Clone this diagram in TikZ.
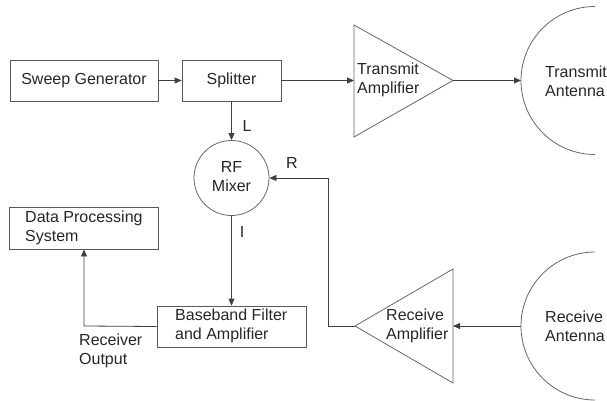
\documentclass[tikz,border=0pt]{standalone}
\usepackage{fontspec}
\setmainfont{Liberation Sans}
\usetikzlibrary{arrows.meta}
\begin{document}
\begin{tikzpicture}[x=1pt,y=-1pt,
  every node/.style={font=\fontsize{16}{19}\selectfont, text=black!85, inner sep=0pt},
  blk/.style={draw=black!65, line width=0.8pt, rectangle},
  conn/.style={draw=black!75, line width=0.8pt, -{Triangle[length=7pt,width=6pt]}},
  plain/.style={draw=black!75, line width=0.8pt},
  shapeline/.style={draw=black!60, line width=0.8pt},
  lbl/.style={align=left, anchor=west}]
\useasboundingbox (0,0) rectangle (607,401);
% boxes
\node[blk, minimum width=148pt, minimum height=41pt] (sweep) at (84,80.5) {};
\node (sweept) at (84,80.5) {Sweep Generator};
\node[blk, minimum width=99pt, minimum height=41pt] (split) at (231.5,80.5) {};
\node (splitt) at (231.5,80.5) {Splitter};
\node[blk, minimum width=149pt, minimum height=42pt] (dps) at (84,228) {};
\node[lbl] (dpst) at (25,228) {Data Processing\\System};
\node[blk, minimum width=149pt, minimum height=41pt] (bb) at (231.5,326.5) {};
\node[lbl] (bbt) at (175,326) {Baseband Filter\\and Amplifier};
% mixer
\node[circle, draw=black!60, line width=0.8pt, minimum size=75pt] (mix) at (231.5,178) {};
\node[align=center] (mixt) at (231.5,177) {RF\\Mixer};
% transmit amplifier
\coordinate (txin) at (354,80.5);
\coordinate (txout) at (453,80.5);
\draw[shapeline] (354,25) -- (453,80.5) -- (354,137) -- cycle;
\node[lbl] (txt) at (357,80) {Transmit\\Amplifier};
% receive amplifier
\coordinate (rxin) at (453,326);
\coordinate (rxout) at (355,326);
\draw[shapeline] (453,269) -- (355,326) -- (453,383) -- cycle;
\node[lbl] (rxt) at (386,326) {Receive\\Amplifier};
% antennas
\coordinate (txant) at (521,80.5);
\draw[shapeline] (595,6.5) arc[start angle=-90, end angle=-270, radius=74];
\node[lbl] (txantt) at (545,81) {Transmit\\Antenna};
\coordinate (rxant) at (521,326);
\draw[shapeline] (595,252) arc[start angle=-90, end angle=-270, radius=74];
\node[lbl] (rxantt) at (545,326) {Receive\\Antenna};
% connectors
\draw[conn] (sweep.east) -- (split.west);
\draw[conn] (split.east) -- (txin);
\draw[conn] (txout) -- (txant);
\draw[conn] (split.south) -- (mix.north);
\draw[conn] (rxant) -- (rxin);
\coordinate (rc) at (328,326);
\draw[conn] (rxout) -- (rc) |- (mix.east);
\draw[conn] (mix.south) -- (bb.north);
\coordinate (oc) at (84,326);
\draw[conn] (bb.west) -- (oc) -- (dps.south);
% labels
\node (L) at (247,126) {L};
\node (R) at (292,163) {R};
\node (I) at (242,232) {I};
\node[lbl] (ro) at (79,351) {Receiver\\Output};
\end{tikzpicture}
\end{document}
